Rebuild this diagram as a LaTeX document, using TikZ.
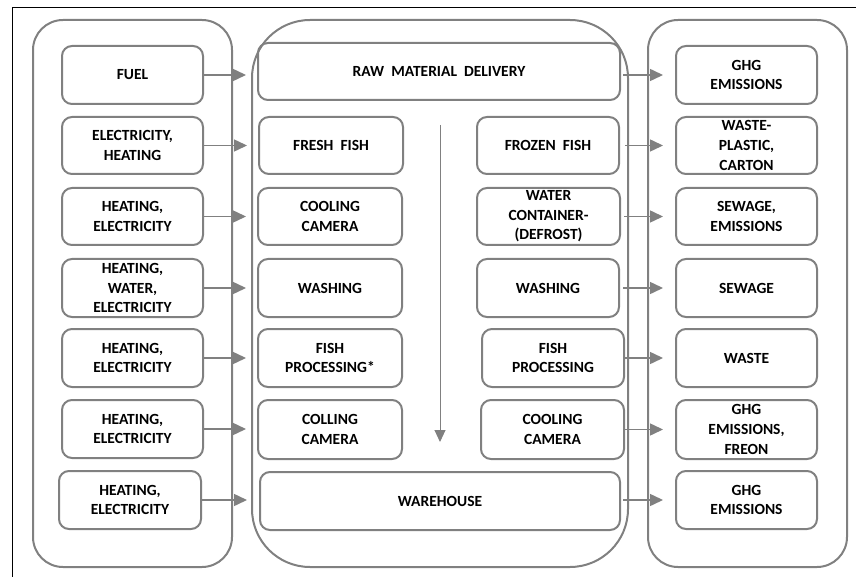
\documentclass[tikz,border=0pt]{standalone}
\usepackage{fontspec}
\setmainfont{Carlito}
\usetikzlibrary{arrows.meta,calc}
\definecolor{boxgray}{RGB}{128,128,128}
\definecolor{arrgray}{RGB}{128,128,128}
\newcommand\myboxfont{\bfseries\fontsize{15.5}{19.6}\selectfont\spaceskip 7pt\relax}
\begin{document}
\begin{tikzpicture}[x=1pt,y=-1pt,
  box/.style={draw=boxgray, line width=2pt, rounded corners=10pt, align=center,
    font=\myboxfont, inner sep=0pt, text=black},
  cont/.style={draw=boxgray, line width=2pt, inner sep=0pt},
  arr/.style={draw=arrgray, line width=1.5pt, -{Triangle[length=13pt,width=12pt]}},
  varr/.style={draw=arrgray, line width=1pt, -{Triangle[length=12pt,width=11pt]}}]
\useasboundingbox (0,0) rectangle (856,577);
% frame
\draw[black, line width=1pt] (12.5,577) -- (12.5,7.5) -- (856,7.5);
% containers
\node[cont, rounded corners=30pt, minimum width=199, minimum height=547] (leftc) at (132.5,293.5) {};
\node[cont, rounded corners=58pt, minimum width=376, minimum height=547] (midc) at (440,293.5) {};
\node[cont, rounded corners=30pt, minimum width=199, minimum height=547] (rightc) at (747.5,293.5) {};
% left boxes
\node[box, minimum width=141, minimum height=58] (L1) at (132.5,75) {FUEL};
\node[box, minimum width=141, minimum height=57] (L2) at (132.5,145.5) {ELECTRICITY,\\HEATING};
\node[box, minimum width=141, minimum height=57] (L3) at (132.5,216.5) {HEATING,\\ELECTRICITY};
\node[box, minimum width=141, minimum height=58] (L4) at (132.5,288) {HEATING,\\WATER,\\ELECTRICITY};
\node[box, minimum width=141, minimum height=58] (L5) at (132.5,358) {HEATING,\\ELECTRICITY};
\node[box, minimum width=141, minimum height=58] (L6) at (132.5,429) {HEATING,\\ELECTRICITY};
\node[box, minimum width=142, minimum height=58] (L7) at (130,500) {HEATING,\\ELECTRICITY};
% middle boxes
\node[box, minimum width=362, minimum height=57] (M0) at (439,71.5) {RAW MATERIAL DELIVERY};
\node[box, minimum width=144, minimum height=57] (FF) at (331,145.5) {FRESH FISH};
\node[box, minimum width=142, minimum height=57] (FZ) at (548,145.5) {FROZEN FISH};
\node[box, minimum width=144, minimum height=57] (C1) at (330,216.5) {COOLING\\CAMERA};
\node[box, minimum width=143, minimum height=57] (WC) at (548.5,216.5) {WATER\\CONTAINER-\\(DEFROST)};
\node[box, minimum width=144, minimum height=58] (W1) at (330,288) {WASHING};
\node[box, minimum width=142, minimum height=58] (W2) at (548,288) {WASHING};
\node[box, minimum width=144, minimum height=58] (P1) at (330,358) {FISH\\PROCESSING*};
\node[box, minimum width=142, minimum height=58] (P2) at (553,358) {FISH\\PROCESSING};
\node[box, minimum width=144, minimum height=59] (C2) at (330,429.5) {COLLING\\CAMERA};
\node[box, minimum width=143, minimum height=59] (C3) at (552.5,429.5) {COOLING\\CAMERA};
\node[box, minimum width=360, minimum height=58] (WH) at (440,501) {WAREHOUSE};
% right boxes
\node[box, minimum width=141, minimum height=58] (R1) at (746.5,75) {GHG\\EMISSIONS};
\node[box, minimum width=141, minimum height=57] (R2) at (746.5,145.5) {WASTE-\\PLASTIC,\\CARTON};
\node[box, minimum width=141, minimum height=57] (R3) at (746.5,216.5) {SEWAGE,\\EMISSIONS};
\node[box, minimum width=141, minimum height=58] (R4) at (746.5,288) {SEWAGE};
\node[box, minimum width=141, minimum height=58] (R5) at (746.5,358) {WASTE};
\node[box, minimum width=141, minimum height=59] (R6) at (746.5,429.5) {GHG\\EMISSIONS,\\FREON};
\node[box, minimum width=141, minimum height=58] (R7) at (746.5,500) {GHG\\EMISSIONS};
% vertical flow arrow
\coordinate (vtop) at (440,125);
\coordinate (vbot) at (440,442);
\draw[varr] (vtop) -- (vbot);
% left arrows
\draw[arr] (L1.east) -- ([xshift=-11pt]L1.east -| M0.west);
\draw[arr] (L2.east) -- ([xshift=-11pt]L2.east -| FF.west);
\draw[arr] (L3.east) -- ([xshift=-11pt]L3.east -| C1.west);
\draw[arr] (L4.east) -- ([xshift=-11pt]L4.east -| W1.west);
\draw[arr] (L5.east) -- ([xshift=-11pt]L5.east -| P1.west);
\draw[arr] (L6.east) -- ([xshift=-11pt]L6.east -| C2.west);
\draw[arr] (L7.east) -- ([xshift=-12pt]L7.east -| WH.west);
% right arrows
\draw[arr] ([xshift=2pt]M0.east |- R1.west) -- ([xshift=-12pt]R1.west);
\draw[arr] ([xshift=5pt]FZ.east |- R2.west) -- ([xshift=-12pt]R2.west);
\draw[arr] ([xshift=3pt]WC.east |- R3.west) -- ([xshift=-12pt]R3.west);
\draw[arr] ([xshift=3pt]W2.east |- R4.west) -- ([xshift=-12pt]R4.west);
\draw[arr] ([xshift=0pt]P2.east |- R5.west) -- ([xshift=-12pt]R5.west);
\draw[arr] ([xshift=0pt]C3.east |- R6.west) -- ([xshift=-12pt]R6.west);
\draw[arr] ([xshift=2pt]WH.east |- R7.west) -- ([xshift=-12pt]R7.west);
\end{tikzpicture}
\end{document}
